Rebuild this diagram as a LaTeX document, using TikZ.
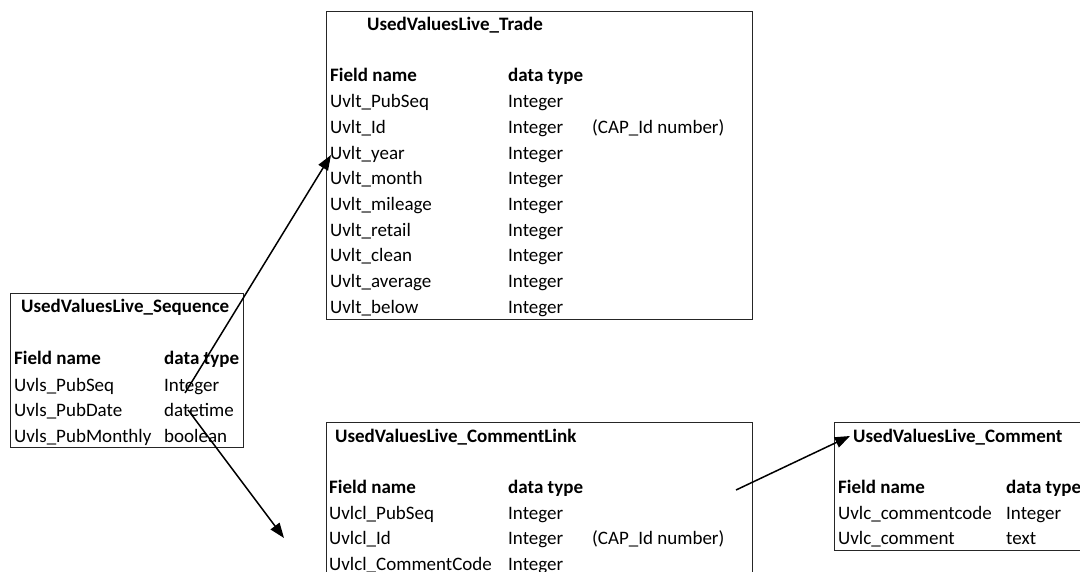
\documentclass[tikz,border=0pt]{standalone}
\usepackage{fontspec}
\setmainfont{Carlito}
\usetikzlibrary{arrows.meta}
\begin{document}
\begin{tikzpicture}[x=1pt,y=-1pt,
  tbl/.style={draw=black!85, line width=1.1pt, anchor=north west, inner sep=0pt},
  txt/.style={anchor=base west, inner sep=0pt, font=\fontsize{19}{19}\selectfont},
  hd/.style={txt, font=\fontsize{19}{19}\selectfont\bfseries},
  link/.style={line width=1.5pt, -{Triangle[length=15pt,width=11pt]}}]
\clip (0,0) rectangle (1080,572);
\useasboundingbox (0,0) rectangle (1080,572);

% UsedValuesLive_Sequence
\node[tbl, minimum width=233pt, minimum height=154pt] (seq) at (10,293) {};
\node[hd] (seqT) at (21,313) {UsedValuesLive\_Sequence};
\node[hd] (seqF) at (14,365) {Field name};
\node[hd] (seqD) at (164,365) {data type};
\node[txt] (seq1) at (14,391) {Uvls\_PubSeq};
\node[txt] (seq1t) at (164,391) {Integer};
\node[txt] (seq2) at (14,416.5) {Uvls\_PubDate};
\node[txt] (seq2t) at (164,416.5) {datetime};
\node[txt] (seq3) at (14,442) {Uvls\_PubMonthly};
\node[txt] (seq3t) at (164,442) {boolean};

% UsedValuesLive_Trade
\node[tbl, minimum width=426pt, minimum height=308pt] (trade) at (326,11) {};
\node[hd] (trT) at (367,31) {UsedValuesLive\_Trade};
\node[hd] (trF) at (330,82) {Field name};
\node[hd] (trD) at (508,82) {data type};
\foreach \f/\n [count=\i] in {PubSeq/pubseq,Id/id,year/year,month/month,mileage/mileage,retail/retail,clean/clean,average/average,below/below}{
  \node[txt] (tr-\n) at (330,{82+25.7*\i}) {Uvlt\_\f};
  \node[txt] (tr-\n-t) at (508,{82+25.7*\i}) {Integer};
}
\node[txt] (trCap) at (592,{82+25.7*2}) {(CAP\_Id number)};

% UsedValuesLive_CommentLink
\node[tbl, minimum width=426pt, minimum height=170pt] (clink) at (326,422) {};
\node[hd] (clT) at (335,442) {UsedValuesLive\_CommentLink};
\node[hd] (clF) at (329,493) {Field name};
\node[hd] (clD) at (508,493) {data type};
\node[txt] (cl1) at (329,519) {Uvlcl\_PubSeq};
\node[txt] (cl1t) at (508,519) {Integer};
\node[txt] (cl2) at (329,544.5) {Uvlcl\_Id};
\node[txt] (cl2t) at (508,544.5) {Integer};
\node[txt] (clCap) at (592,544.5) {(CAP\_Id number)};
\node[txt] (cl3) at (329,570) {Uvlcl\_CommentCode};
\node[txt] (cl3t) at (508,570) {Integer};

% UsedValuesLive_Comment
\node[tbl, minimum width=260pt, minimum height=128pt] (cmt) at (834,422) {};
\node[hd] (cmT) at (853,442) {UsedValuesLive\_Comment};
\node[hd] (cmF) at (838,493) {Field name};
\node[hd] (cmD) at (1006,493) {data type};
\node[txt] (cm1) at (838,519) {Uvlc\_commentcode};
\node[txt] (cm1t) at (1006,519) {Integer};
\node[txt] (cm2) at (838,544.5) {Uvlc\_comment};
\node[txt] (cm2t) at (1006,544.5) {text};

% relationship arrows
\coordinate (seqOutA) at (185,393);
\coordinate (seqOutB) at (188,410);
\coordinate (trIn) at (331,155);
\coordinate (clIn) at (284,538);
\coordinate (clOut) at (736,490);
\coordinate (cmIn) at (850,436);
\draw[link] (seqOutA) -- (trIn);
\draw[link] (seqOutB) -- (clIn);
\draw[link] (clOut) -- (cmIn);
\end{tikzpicture}
\end{document}
